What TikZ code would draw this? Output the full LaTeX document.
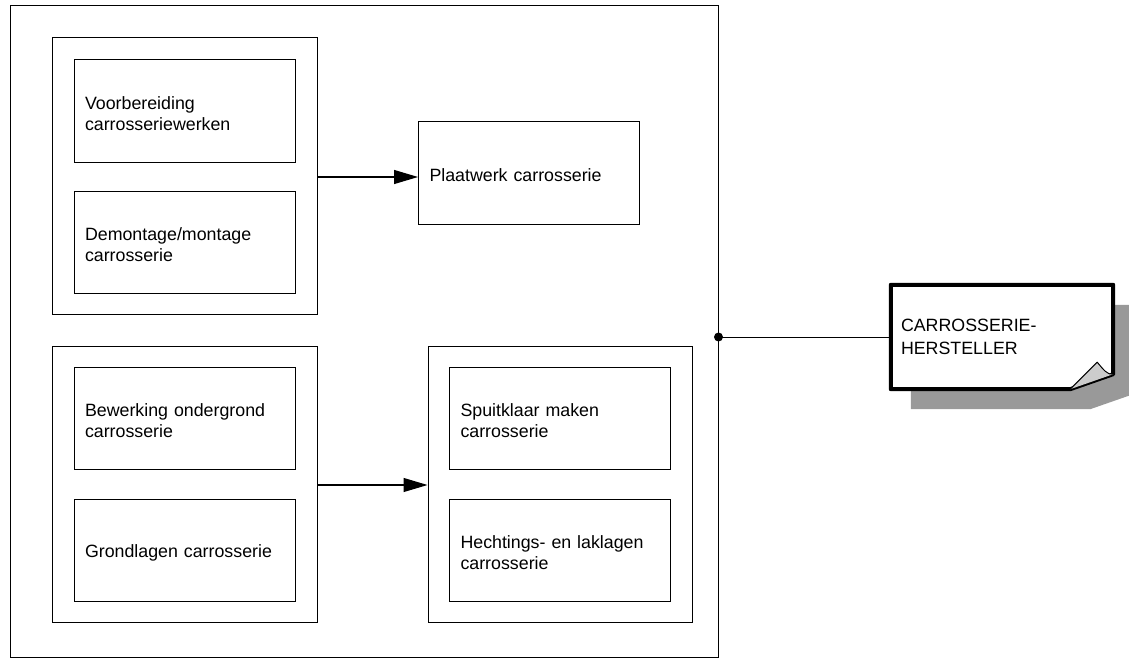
\documentclass[tikz,border=0pt]{standalone}
\usepackage{fontspec}
\setmainfont{Liberation Sans}
\usetikzlibrary{arrows.meta,calc,backgrounds}
\tikzset{
  frame/.style={draw=black,line width=1pt,fill=none,inner sep=0pt},
  task/.style={draw=black,line width=1pt,fill=white,minimum height=102pt,
    inner xsep=11pt,inner ysep=0pt,text width=199pt,align=left,
    font=\fontsize{17.8}{21}\selectfont,
    execute at begin node={\rule{0pt}{18pt}}},
  flow/.style={line width=1.1pt,-{Triangle[length=24pt,width=14pt]}},
}
\begin{document}
\begin{tikzpicture}[x=1pt,y=-1pt]
\useasboundingbox (0,0) rectangle (1129,666);
% outer frame
\node[frame,minimum width=708pt,minimum height=651pt] (main) at (364,331.5) {};
% group 1
\node[frame,minimum width=265pt,minimum height=277pt] (g1) at (184.5,176) {};
\node[task] (t1) at (184.5,111) {Voorbereiding\\carrosseriewerken};
\node[task] (t2) at (184.5,242.5) {Demontage/montage\\carrosserie};
\node[task] (pw) at (529,173) {Plaatwerk carrosserie};
% group 2
\node[frame,minimum width=265pt,minimum height=276pt] (g2) at (184.5,484) {};
\node[task] (t3) at (184.5,418.5) {Bewerking ondergrond\\carrosserie};
\node[task] (t4) at (184.5,550) {Grondlagen carrosserie};
% group 3
\node[frame,minimum width=264pt,minimum height=276pt] (g3) at (560,484) {};
\node[task] (t5) at (560,418.5) {Spuitklaar maken\\carrosserie};
\node[task] (t6) at (560,550) {Hechtings- en laklagen\\carrosserie};
% arrows
\draw[flow] ($(g1.east)+(0,1)$) -- ($(g1.east -| pw.west)+(0,1)$);
\draw[flow] ($(g2.east)+(0,1)$) -- ($(g2.east -| g3.west)+(0,1)$);
% note
\node[inner xsep=10pt,inner ysep=0pt,text width=202pt,align=left,
  minimum height=104pt,font=\fontsize{17.8}{23}\selectfont] (note) at (1002,337)
  {CARROSSERIE-\\HERSTELLER};
\begin{scope}[on background layer]
\fill[black!40] ($(note.north west)+(20,20)$) -- ($(note.north east)+(20,20)$)
  -- ($(note.south east)+(20,5)$) -- ($(note.south east)+(-23,20)$)
  -- ($(note.south west)+(20,20)$) -- cycle;
\draw[line width=4pt,fill=white,line join=round]
  (note.north west) -- (note.north east) -- ($(note.south east)+(0,-15)$)
  -- ($(note.south east)+(-43,0)$) -- (note.south west) -- cycle;
\draw[line width=1pt,fill=black!20,line join=round]
  ($(note.south east)+(-43,0)$) -- ($(note.south east)+(-16,-27)$)
  .. controls ($(note.south east)+(-10,-20)$) and ($(note.south east)+(-6,-14)$) .. ($(note.south east)+(0,-15)$);
\end{scope}
% junction
\coordinate (j) at (main.east |- note.west);
\draw[line width=1pt] (j) -- (note.west);
\fill (j) circle (4.5pt);
\end{tikzpicture}
\end{document}
